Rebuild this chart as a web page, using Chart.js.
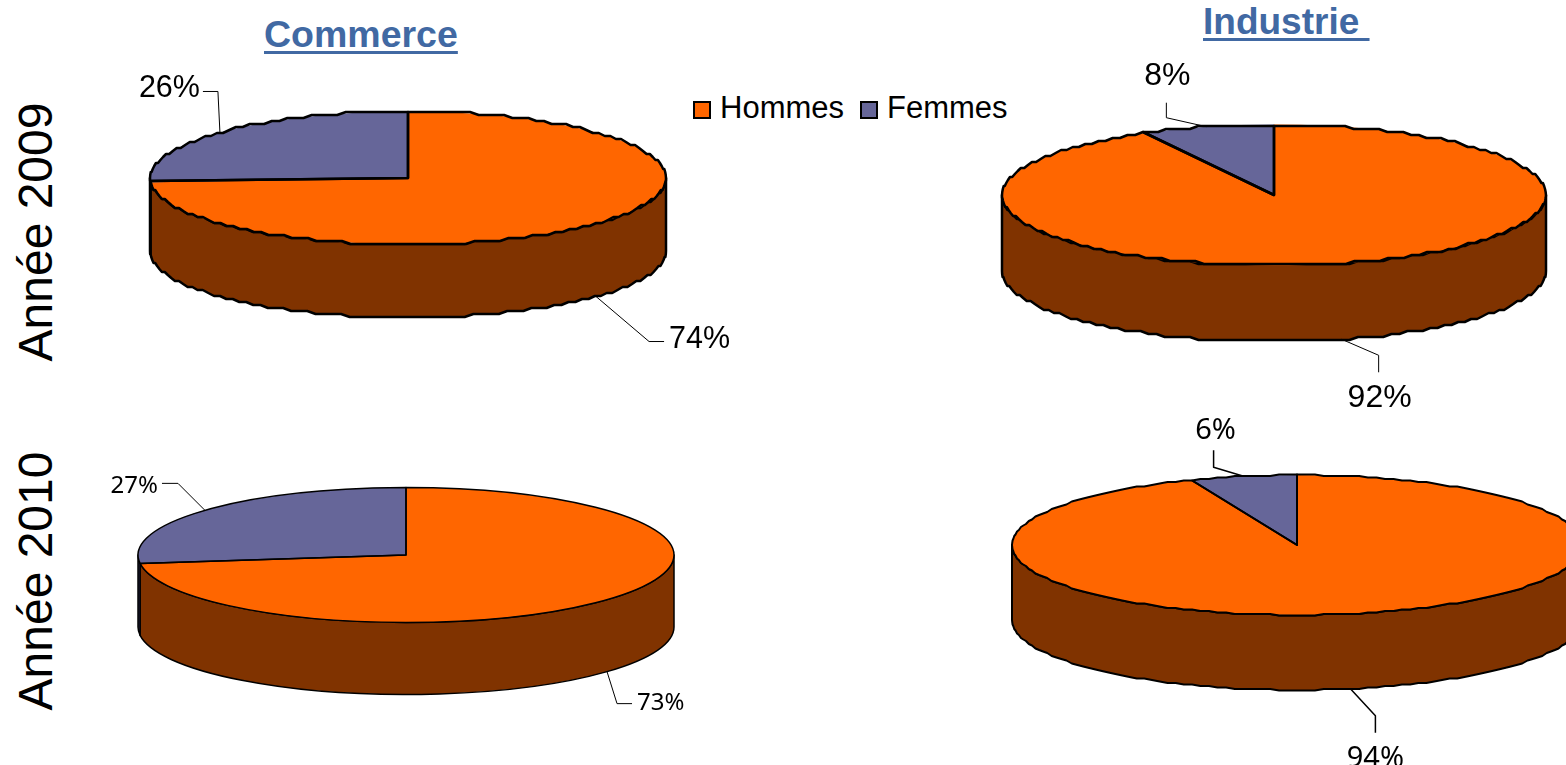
<!DOCTYPE html>
<html lang="fr">
<head>
<meta charset="utf-8">
<title>Hommes / Femmes</title>
<script src="https://cdn.jsdelivr.net/npm/chart.js@4"></script>
<style>
  html, body { margin: 0; padding: 0; background: #fff; width: 1566px; height: 765px; overflow: hidden; }
  body { position: relative; font-family: "Liberation Sans", Arial, sans-serif; color: #000; }
  canvas { position: absolute; }
  .titre { position: absolute; font-weight: bold; color: #4169a3; text-decoration: underline; white-space: pre; line-height: 1; text-decoration-thickness: 3px; text-underline-offset: 4px; }
  .annee { position: absolute; font-size: 48px; line-height: 1; white-space: pre; transform: translate(-50%, -50%) rotate(-90deg); }
  #legende { position: absolute; left: 693px; top: 90px; font-size: 31px; line-height: 36px; white-space: pre; }
  #legende i { display: inline-block; width: 14px; height: 14px; border: 2.5px solid #000; vertical-align: -1px; margin-right: 9px; }
  #legende span { margin-right: 16px; }
</style>
</head>
<body>
<div class="titre" style="left:264px;top:16px;font-size:37.5px">Commerce</div>
<div class="titre" style="left:1203px;top:3px;font-size:37px">Industrie </div>
<div class="annee" style="left:36px;top:232px">Année 2009</div>
<div class="annee" style="left:36px;top:581px">Année 2010</div>
<div id="legende"></div>

<script>
// Données
const categories = ['Hommes', 'Femmes'];
const commerce2009 = [74, 26];
const industrie2009 = [92, 8];
const commerce2010 = [73, 27];
const industrie2010 = [94, 6];

const couleurs = ['#ff6600', '#666699'];
const couleursCote = ['#803300', '#29294d'];

const ARIAL = '"Liberation Sans", Arial, sans-serif';
const NOTO = '"Noto Sans", sans-serif';
const MARGE = 130;

// cx, cy : centre ; r, ry : rayons de l'ellipse ; h : épaisseur du disque
// grain : pas d'escalier du contour (l'original est un peu crénelé)
// renvois : coude, fin du trait et position du texte, relatifs au point d'ancrage sur l'arc
const camemberts = [
  { valeurs: commerce2009, cx: 408, cy: 178, r: 258, ry: 66.5, h: 73, trait: 2.5, renvoiLargeur: 1, grain: 3,
    police: '30.5px ' + ARIAL,
    renvois: [
      { coude: [53, 45], fin: [68, 45], texte: [73, 43], align: 'left' },
      { coude: [-2, -41], fin: [-17, -41], texte: [-20, -44], align: 'right' }
    ] },
  { valeurs: industrie2009, cx: 1274, cy: 195, r: 272, ry: 70.5, h: 76, trait: 2.5, renvoiLargeur: 1, grain: 3,
    police: '32px ' + ARIAL,
    renvois: [
      { coude: [37, 16], fin: [37, 33], texte: [38, 59], align: 'center' },
      { coude: [-40, -9], fin: [-40, -24], texte: [-39, -51], align: 'center' }
    ] },
  { valeurs: commerce2010, cx: 406, cy: 554.5, r: 268, ry: 67.5, h: 72, trait: 1.5, renvoiLargeur: 1, grain: 0,
    police: '24px ' + NOTO,
    renvois: [
      { coude: [10, 32], fin: [25, 32], texte: [30, 32], align: 'left' },
      { coude: [-27, -27], fin: [-43, -27], texte: [-47, -24], align: 'right' }
    ] },
  { valeurs: industrie2010, cx: 1297, cy: 545, r: 285, ry: 70, h: 75, trait: 2, renvoiLargeur: 1.5, grain: 1.5,
    police: '29px ' + NOTO,
    renvois: [
      { coude: [25, 27], fin: [25, 44], texte: [25, 70], align: 'center' },
      { coude: [-30, -9], fin: [-30, -26], texte: [-28, -46], align: 'center' }
    ] }
];

// Trace un arc d'ellipse, en petits segments crénelés si grain > 0
function arcEllipse(ctx, x, y, rx, ry, debut, fin, grain) {
  if (!grain) {
    ctx.ellipse(x, y, rx, ry, 0, debut, fin, fin < debut);
    return;
  }
  const n = Math.max(2, Math.ceil(Math.abs(fin - debut) * rx / 9));
  for (let k = 0; k <= n; k++) {
    const a = debut + (fin - debut) * k / n;
    const px = x + rx * Math.cos(a);
    const py = y + Math.round(ry * Math.sin(a) / grain) * grain;
    ctx.lineTo(px, py);
  }
}

// Aplatit le camembert et ajoute le côté, les contours et les renvois
const effet3d = {
  id: 'effet3d',
  beforeDatasetsDraw(chart, args, opts) {
    const ctx = chart.ctx;
    const ratio = opts.ry / opts.r;
    chart.getDatasetMeta(0).data.forEach((arc, i) => {
      const debut = Math.max(arc.startAngle, 0);
      const fin = Math.min(arc.endAngle, Math.PI);
      if (fin <= debut) return;
      const r = arc.outerRadius;
      ctx.beginPath();
      arcEllipse(ctx, arc.x, arc.y, r, r * ratio, debut, fin, opts.grain);
      arcEllipse(ctx, arc.x, arc.y + opts.h, r, r * ratio, fin, debut, opts.grain);
      ctx.closePath();
      ctx.fillStyle = couleursCote[i];
      ctx.fill();
      ctx.lineWidth = opts.trait;
      ctx.lineJoin = 'round';
      ctx.strokeStyle = '#000';
      ctx.stroke();
    });
    const c = chart.getDatasetMeta(0).data[0];
    ctx.save();
    ctx.translate(c.x, c.y);
    ctx.scale(1, ratio);
    ctx.translate(-c.x, -c.y);
  },
  afterDatasetsDraw(chart, args, opts) {
    const ctx = chart.ctx;
    ctx.restore();
    const ratio = opts.ry / opts.r;
    chart.getDatasetMeta(0).data.forEach((arc, i) => {
      const r = arc.outerRadius;
      ctx.beginPath();
      ctx.moveTo(arc.x, arc.y);
      arcEllipse(ctx, arc.x, arc.y, r, r * ratio, arc.startAngle, arc.endAngle, opts.grain);
      ctx.closePath();
      ctx.lineWidth = opts.trait;
      ctx.lineJoin = 'round';
      ctx.strokeStyle = '#000';
      ctx.stroke();

      // renvoi : part du milieu de l'arc, sur le bord visible
      const milieu = (arc.startAngle + arc.endAngle) / 2;
      const sinus = Math.sin(milieu);
      const ax = arc.x + r * Math.cos(milieu);
      const ay = arc.y + r * ratio * sinus + (sinus > 0 ? opts.h : 0);
      const rv = opts.renvois[i];
      ctx.beginPath();
      ctx.moveTo(ax, ay);
      ctx.lineTo(ax + rv.coude[0], ay + rv.coude[1]);
      ctx.lineTo(ax + rv.fin[0], ay + rv.fin[1]);
      ctx.lineWidth = opts.renvoiLargeur;
      ctx.stroke();

      ctx.font = opts.police;
      ctx.fillStyle = '#000';
      ctx.textAlign = rv.align;
      ctx.textBaseline = 'middle';
      ctx.fillText(chart.data.datasets[0].data[i] + '%', ax + rv.texte[0], ay + rv.texte[1]);
    });
  }
};

camemberts.forEach(p => {
  const canvas = document.createElement('canvas');
  const cote = 2 * (p.r + MARGE);
  canvas.style.left = (p.cx - p.r - MARGE) + 'px';
  canvas.style.top = (p.cy - p.r - MARGE) + 'px';
  canvas.style.width = cote + 'px';
  canvas.style.height = cote + 'px';
  canvas.width = cote;
  canvas.height = cote;
  document.body.appendChild(canvas);
  new Chart(canvas.getContext('2d'), {
    type: 'pie',
    data: {
      labels: categories,
      datasets: [{ data: p.valeurs, backgroundColor: couleurs, borderWidth: 0 }]
    },
    options: {
      responsive: false,
      animation: false,
      layout: { padding: MARGE },
      events: [],
      plugins: {
        legend: { display: false },
        tooltip: { enabled: false },
        effet3d: { r: p.r, ry: p.ry, h: p.h, trait: p.trait, renvoiLargeur: p.renvoiLargeur, grain: p.grain, police: p.police, renvois: p.renvois }
      }
    },
    plugins: [effet3d]
  });
});

document.getElementById('legende').innerHTML = categories
  .map((c, i) => `<i style="background:${couleurs[i]}"></i><span>${c}</span>`)
  .join('');
</script>
</body>
</html>
